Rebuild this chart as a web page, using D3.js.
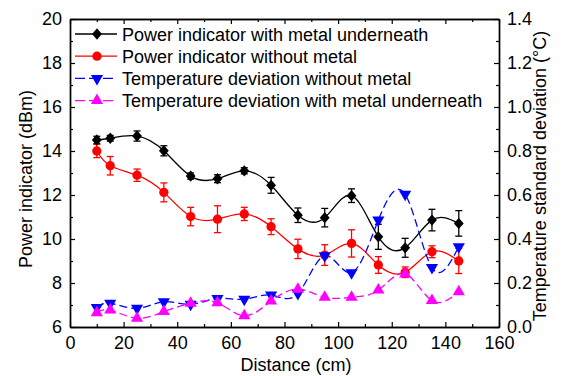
<!DOCTYPE html>
<html>
<head>
<meta charset="utf-8">
<script src="https://cdn.jsdelivr.net/npm/d3@7"></script>
<style>
  body { margin: 0; background: #fff; }
  text { font-family: "Liberation Sans", Arial, sans-serif; fill: #000; }
</style>
</head>
<body>
<script>
// distance in cm
var distance = [10, 15, 25, 35, 45, 55, 65, 75, 85, 95, 105, 115, 125, 135, 145];

// power indicator (dBm), left axis
var powerMetal    = [14.5, 14.58, 14.68, 14.01, 12.86, 12.74, 13.1, 12.44, 11.08, 10.97, 11.97, 10.1, 9.6, 10.86, 10.71];
var powerMetalErr = [0.17, 0.13, 0.23, 0.23, 0.14, 0.18, 0.14, 0.36, 0.33, 0.42, 0.31, 0.57, 0.43, 0.49, 0.58];
var powerNoMetal    = [14.0, 13.33, 12.9, 12.12, 11.02, 10.9, 11.14, 10.56, 9.55, 9.27, 9.8, 8.82, 8.49, 9.42, 9.0];
var powerNoMetalErr = [0.3, 0.42, 0.28, 0.43, 0.42, 0.61, 0.3, 0.36, 0.44, 0.47, 0.62, 0.38, 0.24, 0.27, 0.57];

// temperature standard deviation (°C), right axis
var tempNoMetal = [0.089, 0.108, 0.085, 0.115, 0.103, 0.13, 0.126, 0.145, 0.152, 0.324, 0.247, 0.486, 0.603, 0.27, 0.365];
var tempMetal   = [0.065, 0.077, 0.04, 0.07, 0.108, 0.11, 0.051, 0.118, 0.172, 0.135, 0.135, 0.168, 0.241, 0.12, 0.16];

var xTicks = [0, 20, 40, 60, 80, 100, 120, 140, 160];
var leftTicks = [6, 8, 10, 12, 14, 16, 18, 20];
var rightTicks = [0, 0.2, 0.4, 0.6, 0.8, 1.0, 1.2, 1.4];

var legendNames = ["Power indicator with metal underneath", "Power indicator without metal",
                   "Temperature deviation without metal", "Temperature deviation with metal underneath"];

var W = 563, H = 376;
var L = 70, R = 499, T = 19, B = 327;
var FS = '18px';

var svg = d3.select('body').append('svg')
    .attr('width', W)
    .attr('height', H);

var x = d3.scaleLinear().domain([0, 160]).range([L, R]);
var yL = d3.scaleLinear().domain([6, 20]).range([B, T]);
var yR = d3.scaleLinear().domain([0, 1.4]).range([B, T]);

function styleAxis(g) {
  g.select('.domain').attr('stroke', '#000').attr('stroke-width', 1.4);
  g.selectAll('.tick line').attr('stroke', '#000').attr('stroke-width', 1.2);
  g.selectAll('.tick text').style('font-size', FS).attr('fill', '#000');
  g.attr('font-family', null).attr('font-size', null);
}

// minor ticks first
svg.append('g').attr('transform', 'translate(0,' + B + ')')
   .call(d3.axisBottom(x).tickValues(d3.range(10, 160, 20)).tickSize(-3).tickSizeOuter(0).tickFormat(''))
   .call(styleAxis);
svg.append('g').attr('transform', 'translate(0,' + T + ')')
   .call(d3.axisTop(x).tickValues(d3.range(10, 160, 20)).tickSize(-3).tickSizeOuter(0).tickFormat(''))
   .call(styleAxis);
svg.append('g').attr('transform', 'translate(' + L + ',0)')
   .call(d3.axisLeft(yL).tickValues(d3.range(7, 20, 2)).tickSize(-3).tickSizeOuter(0).tickFormat(''))
   .call(styleAxis);
svg.append('g').attr('transform', 'translate(' + R + ',0)')
   .call(d3.axisRight(yR).tickValues(d3.range(0.1, 1.4, 0.2)).tickSize(-3).tickSizeOuter(0).tickFormat(''))
   .call(styleAxis);

// major ticks
svg.append('g').attr('transform', 'translate(0,' + B + ')')
   .call(d3.axisBottom(x).tickValues(xTicks).tickSize(-5).tickSizeOuter(0).tickPadding(9).tickFormat(d3.format('d')))
   .call(styleAxis);
svg.append('g').attr('transform', 'translate(0,' + T + ')')
   .call(d3.axisTop(x).tickValues(xTicks).tickSize(-5).tickSizeOuter(0).tickFormat(''))
   .call(styleAxis);
svg.append('g').attr('transform', 'translate(' + L + ',0)')
   .call(d3.axisLeft(yL).tickValues(leftTicks).tickSize(-5).tickSizeOuter(0).tickPadding(8).tickFormat(d3.format('d')))
   .call(styleAxis);
svg.append('g').attr('transform', 'translate(' + R + ',0)')
   .call(d3.axisRight(yR).tickValues(rightTicks).tickSize(-5).tickSizeOuter(0).tickPadding(8).tickFormat(d3.format('.1f')))
   .call(styleAxis);

// axis titles
svg.append('text')
   .attr('x', 296).attr('y', 371)
   .attr('text-anchor', 'middle')
   .style('font-size', FS)
   .text('Distance (cm)');
svg.append('text')
   .attr('transform', 'translate(32,179) rotate(-90)')
   .attr('text-anchor', 'middle')
   .style('font-size', FS)
   .text('Power indicator (dBm)');
svg.append('text')
   .attr('transform', 'translate(546,176) rotate(-90)')
   .attr('text-anchor', 'middle')
   .style('font-size', FS)
   .text('Temperature standard deviation (\u00B0C)');

var series = [
  {vals: powerMetal, err: powerMetalErr, y: yL, color: '#000000', sym: d3.symbolDiamond2, size: 62, rot: 0, sy: 1.15, dash: null},
  {vals: powerNoMetal, err: powerNoMetalErr, y: yL, color: '#ff0000', sym: d3.symbolCircle, size: 68, rot: 0, sy: 1, dash: null},
  {vals: tempNoMetal, err: null, y: yR, color: '#0000ff', sym: d3.symbolTriangle, size: 64, rot: 180, sy: 1, dash: '8,4'},
  {vals: tempMetal, err: null, y: yR, color: '#ff00ff', sym: d3.symbolTriangle, size: 64, rot: 0, sy: 1, dash: '8,4'}
];

var plot = svg.append('g');

series.forEach(function(s) {
  var pts = distance.map(function(d, i) { return [d, s.vals[i], s.err ? s.err[i] : 0]; });
  var line = d3.line()
      .x(function(p) { return x(p[0]); })
      .y(function(p) { return s.y(p[1]); })
      .curve(d3.curveNatural);
  plot.append('path')
      .datum(pts)
      .attr('d', line)
      .attr('fill', 'none')
      .attr('stroke', s.color)
      .attr('stroke-width', 1.3)
      .attr('stroke-dasharray', s.dash);

  if (s.err) {
    var eb = plot.append('g').attr('stroke', s.color).attr('stroke-width', 1.3);
    pts.forEach(function(p) {
      var cx = x(p[0]), y1 = s.y(p[1] - p[2]), y2 = s.y(p[1] + p[2]);
      eb.append('line').attr('x1', cx).attr('x2', cx).attr('y1', y1).attr('y2', y2);
      eb.append('line').attr('x1', cx - 3.5).attr('x2', cx + 3.5).attr('y1', y1).attr('y2', y1);
      eb.append('line').attr('x1', cx - 3.5).attr('x2', cx + 3.5).attr('y1', y2).attr('y2', y2);
    });
  }
});

function markTransform(s, px, py) {
  return 'translate(' + px + ',' + py + ') rotate(' + s.rot + ') scale(1,' + s.sy + ')';
}

series.forEach(function(s) {
  plot.append('g').selectAll('path')
    .data(distance.map(function(d, i) { return [d, s.vals[i]]; }))
    .join('path')
      .attr('d', d3.symbol().type(s.sym).size(s.size))
      .attr('transform', function(p) { return markTransform(s, x(p[0]), s.y(p[1])); })
      .attr('fill', s.color);
});

// legend
var leg = svg.append('g');
legendNames.forEach(function(name, i) {
  var s = series[i];
  var cy = 34 + i * 22.2;
  leg.append('line')
     .attr('x1', 75).attr('x2', 117).attr('y1', cy).attr('y2', cy)
     .attr('stroke', s.color).attr('stroke-width', 1.3)
     .attr('stroke-dasharray', s.dash ? '10,4' : null);
  leg.append('path')
     .attr('d', d3.symbol().type(s.sym).size(s.size)())
     .attr('transform', markTransform(s, 97, cy))
     .attr('fill', s.color);
  leg.append('text')
     .attr('x', 122).attr('y', cy + 6.5)
     .style('font-size', FS)
     .text(name);
});
</script>
</body>
</html>
